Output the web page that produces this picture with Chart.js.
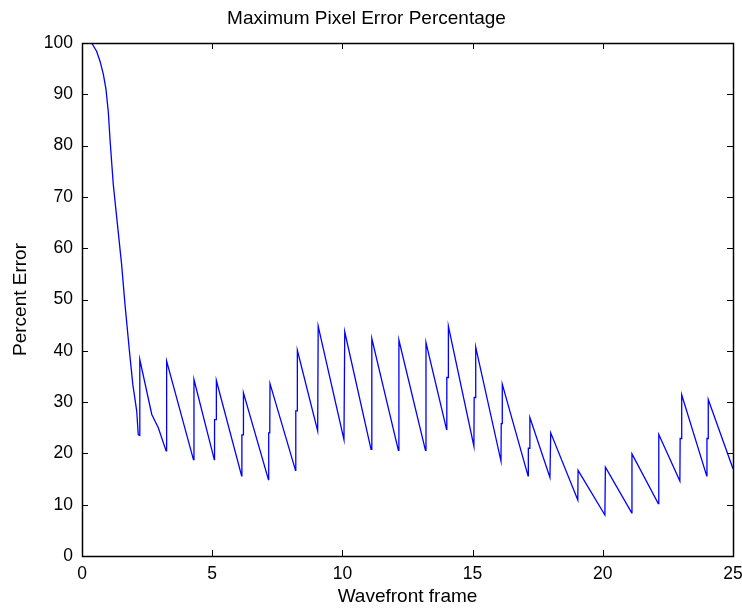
<!DOCTYPE html>
<html>
<head>
<meta charset="utf-8">
<script src="https://cdn.jsdelivr.net/npm/chart.js@4.4.1/dist/chart.umd.min.js"></script>
<style>
  html, body { margin: 0; padding: 0; background: #fff; }
  #wrap { width: 742px; height: 610px; }
</style>
</head>
<body>
<div id="wrap"><canvas id="c" width="742" height="610"></canvas></div>
<script>
// Wavefront frame (x) and percent error (y)
const frames = [
  0, 0.37, 0.56, 0.69, 0.82, 0.92, 1.01, 1.08, 1.20, 1.36, 1.52, 1.65, 1.82, 1.95, 2.10, 2.16, 2.20,
  2.22, 2.68, 2.93, 3.23,
  3.25, 4.28,
  4.30, 5.08, 5.09, 5.15, 5.16,
  6.13, 6.14, 6.19, 6.20,
  7.16, 7.17, 7.21, 7.22,
  8.20, 8.21, 8.26, 8.27,
  9.05, 9.07,
  10.06, 10.09,
  11.10, 11.13,
  12.15, 12.17,
  13.19, 13.21,
  14.00, 14.01, 14.06, 14.07,
  15.05, 15.06, 15.11, 15.12,
  16.09, 16.10, 16.13, 16.14,
  17.13, 17.14, 17.19, 17.20,
  17.97, 18.00,
  19.04, 19.05,
  20.08, 20.10,
  21.11, 21.12,
  22.13, 22.15,
  22.96, 22.97, 23.02, 23.03,
  23.99, 24.00, 24.04, 24.05,
  25.00
];
const percentError = [
  100, 100, 98.4, 96.5, 93.9, 91.0, 86.6, 80.9, 72.5, 64.7, 56.9, 49.1, 40.0, 33.5, 28.3, 23.7, 23.5,
  38.3, 27.6, 25.0, 20.5,
  38.0, 18.8,
  34.4, 18.8, 26.6, 26.6, 34.2,
  15.6, 23.6, 23.6, 31.8,
  14.9, 24.0, 24.0, 33.6,
  16.7, 28.3, 28.3, 40.1,
  24.4, 44.8,
  22.7, 43.7,
  20.8, 42.4,
  20.6, 42.1,
  20.6, 41.6,
  24.7, 34.8, 34.8, 44.8,
  21.4, 30.9, 30.9, 40.7,
  18.5, 25.8, 25.8, 33.5,
  15.6, 21.0, 21.0, 27.0,
  15.3, 24.0,
  10.9, 16.7,
  8.0, 17.3,
  8.4, 19.9,
  10.2, 23.7,
  14.6, 22.9, 22.9, 31.4,
  15.6, 22.9, 22.9, 30.5,
  17.0
];
const xTicks = [0, 5, 10, 15, 20, 25];
const yTicks = [0, 10, 20, 30, 40, 50, 60, 70, 80, 90, 100];
const chartTitle = 'Maximum Pixel Error Percentage';
const xLabel = 'Wavefront frame';
const yLabel = 'Percent Error';

const points = frames.map((f, i) => ({ x: f, y: percentError[i] }));

Chart.defaults.font.family = "'Liberation Sans', Arial, Helvetica, sans-serif";
Chart.defaults.color = '#000';

const boxPlugin = {
  id: 'boxTicks',
  afterDraw(chart) {
    const { ctx, chartArea: a, scales } = chart;
    const tl = 6;
    ctx.save();
    ctx.strokeStyle = '#000';
    ctx.lineWidth = 1;
    ctx.beginPath();
    xTicks.forEach(v => {
      const px = Math.round(scales.x.getPixelForValue(v)) + 0.5;
      ctx.moveTo(px, a.bottom); ctx.lineTo(px, a.bottom - tl);
      ctx.moveTo(px, a.top); ctx.lineTo(px, a.top + tl);
    });
    yTicks.forEach(v => {
      const py = Math.round(scales.y.getPixelForValue(v)) + 0.5;
      ctx.moveTo(a.left, py); ctx.lineTo(a.left + tl, py);
      ctx.moveTo(a.right, py); ctx.lineTo(a.right - tl, py);
    });
    ctx.stroke();
    ctx.lineWidth = 1.5;
    ctx.strokeRect(Math.round(a.left) + 0.5, Math.round(a.top) + 0.5,
                   Math.round(a.right - a.left), Math.round(a.bottom - a.top));
    ctx.restore();
  }
};

new Chart(document.getElementById('c'), {
  type: 'scatter',
  data: {
    datasets: [{
      data: points,
      showLine: true,
      borderColor: '#0000ff',
      borderWidth: 1.3,
      pointRadius: 0,
      tension: 0,
      fill: false
    }]
  },
  options: {
    responsive: false,
    animation: false,
    devicePixelRatio: 1,
    layout: { padding: { left: 0, right: 9, top: 0, bottom: 0 } },
    plugins: {
      legend: { display: false },
      tooltip: { enabled: false },
      title: {
        display: true,
        text: chartTitle,
        font: { size: 19, weight: 'normal' },
        color: '#000',
        padding: { top: 7.5, bottom: 12.7 }
      }
    },
    scales: {
      x: {
        type: 'linear',
        min: 0, max: 25,
        afterBuildTicks: s => { s.ticks = xTicks.map(v => ({ value: v })); },
        afterFit: s => { s.height = 54; s.paddingLeft = 0; s.paddingRight = 0; },
        ticks: { font: { size: 17.5 }, padding: 8, maxRotation: 0, color: '#000' },
        grid: { display: false, drawTicks: false },
        border: { display: false },
        title: { display: true, text: xLabel, font: { size: 19 }, color: '#000', padding: { top: 0, bottom: 1.5 } }
      },
      y: {
        type: 'linear',
        min: 0, max: 100,
        afterBuildTicks: s => { s.ticks = yTicks.map(v => ({ value: v })); },
        afterFit: s => { s.width = 82; },
        ticks: { font: { size: 17.5 }, padding: 9, color: '#000' },
        grid: { display: false, drawTicks: false },
        border: { display: false },
        title: { display: true, text: yLabel, font: { size: 19 }, color: '#000', padding: { top: 9, bottom: 0 } }
      }
    }
  },
  plugins: [boxPlugin]
});
</script>
</body>
</html>
